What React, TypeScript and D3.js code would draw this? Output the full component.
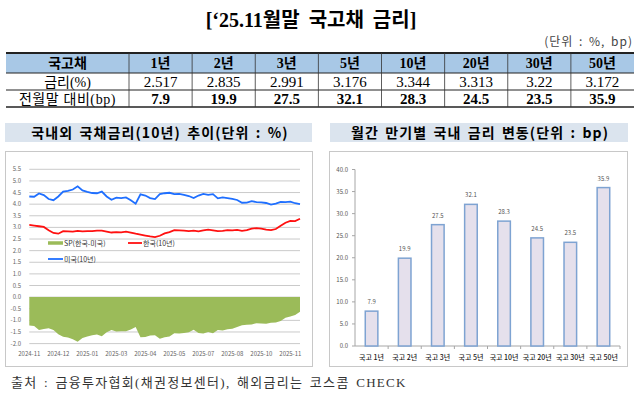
import React from 'react';
import * as d3 from 'd3';

// table / bar chart data
const maturities = ['1년', '2년', '3년', '5년', '10년', '20년', '30년', '50년'];
const yields = [2.517, 2.835, 2.991, 3.176, 3.344, 3.313, 3.22, 3.172];
const changeBp = [7.9, 19.9, 27.5, 32.1, 28.3, 24.5, 23.5, 35.9];
const barCategories = maturities.map(m => `국고 ${m}`);

// 10y yields, Nov 2024 -> Nov 2025
const usRate = [
  4.33, 4.32, 4.46, 4.39, 4.22, 4.17, 4.33, 4.54, 4.57, 4.63,
  4.77, 4.59, 4.53, 4.48, 4.47, 4.54, 4.33, 4.19, 4.28, 4.26,
  4.29, 4.17, 4.02, 4.42, 4.37, 4.26, 4.22, 4.43, 4.47, 4.49,
  4.43, 4.44, 4.4, 4.35, 4.26, 4.37, 4.44, 4.4, 4.43, 4.25,
  4.29, 4.26, 4.23, 4.18, 4.06, 4.07, 4.13, 4.09, 4.08, 4.05,
  3.98, 4.02, 4.1, 4.09, 4.11, 4.04, 4.0,
];
const krRate = [
  3.11, 3.08, 3.05, 3.02, 2.88, 2.76, 2.73, 2.84, 2.83, 2.82,
  2.85, 2.83, 2.84, 2.84, 2.86, 2.86, 2.82, 2.78, 2.8, 2.79,
  2.82, 2.78, 2.73, 2.69, 2.65, 2.61, 2.58, 2.64, 2.74, 2.8,
  2.88, 2.87, 2.86, 2.84, 2.86, 2.83, 2.87, 2.9, 2.87, 2.84,
  2.85, 2.88, 2.87, 2.89, 2.85, 2.88, 2.95, 2.97, 2.95, 2.9,
  2.88, 2.93, 3.07, 3.2, 3.28, 3.27, 3.37,
];
const dateLabels = ['2024-11', '2024-12', '2025-01', '2025-03', '2025-04', '2025-05', '2025-07', '2025-08', '2025-10', '2025-11'];
const labelEvery = 6;

const rateTicks = d3.range(-2, 5.51, 0.5);
const bpTicks = d3.range(0, 40.1, 5);

const serif = '"Liberation Serif", "Noto Sans CJK KR", serif';
const sans = '"Noto Sans CJK KR", "Liberation Sans", sans-serif';
const fmt1 = (v: number) => (Math.round(v * 10) / 10).toFixed(1);

const Table = () => {
  const left = 6, right = 634, firstW = 123;
  const col = d3.scaleBand<string>().domain(maturities).range([left + firstW, right]);
  const rows = [53, 73, 90, 107];
  const mid = (i: number) => (rows[i] + rows[i + 1]) / 2 + 5;
  return (
    <g>
      <rect x={left} y={rows[0]} width={right - left} height={rows[1] - rows[0]} fill="#a8c8e6" />
      {rows.map((y, i) => (
        <line key={i} x1={left} x2={right} y1={y} y2={y} stroke="#222"
          strokeWidth={i === 0 ? 2.2 : i === 3 ? 1.6 : 1} />
      ))}
      {maturities.map(m => (
        <line key={m} x1={col(m)} x2={col(m)} y1={rows[0]} y2={rows[3]} stroke="#333" strokeWidth={0.8} />
      ))}
      <text x={left + firstW / 2} y={mid(0)} textAnchor="middle" fontFamily={serif} fontWeight="bold" fontSize={14}>국고채</text>
      <text x={left + firstW / 2} y={mid(1)} textAnchor="middle" fontFamily={serif} fontSize={14}>금리(%)</text>
      <text x={left + firstW / 2} y={mid(2)} textAnchor="middle" fontFamily={serif} fontSize={14} letterSpacing={0.6}>전월말 대비(bp)</text>
      {maturities.map((m, i) => {
        const cx = col(m)! + col.bandwidth() / 2;
        return (
          <g key={m} fontFamily={serif} textAnchor="middle">
            <text x={cx} y={mid(0)} fontWeight="bold" fontSize={14}>{m}</text>
            <text x={cx} y={mid(1)} fontSize={15}>{yields[i]}</text>
            <text x={cx} y={mid(2)} fontWeight="bold" fontSize={15}>{changeBp[i].toFixed(1)}</text>
          </g>
        );
      })}
    </g>
  );
};

const RateChart = () => {
  const x = d3.scaleLinear().domain([0, usRate.length - 1]).range([29.3, 300]);
  const y = d3.scaleLinear().domain([-2, 5.5]).range([343.6, 169.3]);
  const spread = krRate.map((v, i) => v - usRate[i]);
  const area = d3.area<number>().x((_, i) => x(i)).y0(y(0)).y1(d => y(d));
  const line = d3.line<number>().x((_, i) => x(i)).y(d => y(d));
  return (
    <g>
      <rect x={5.5} y={151.5} width={307} height={215} fill="#fff" stroke="#c8c8c8" />
      {rateTicks.map(t => (
        <g key={t}>
          <line x1={29.3} x2={300} y1={y(t)} y2={y(t)} stroke="#bcbcbc" strokeWidth={0.8} />
          <text x={21} y={y(t) + 2} textAnchor="end" fontFamily={sans} fontSize={6} fill="#666">{fmt1(t)}</text>
        </g>
      ))}
      <path d={area(spread)!} fill="#9bbb59" />
      <path d={line(usRate)!} fill="none" stroke="#1f6fff" strokeWidth={1.8} />
      <path d={line(krRate)!} fill="none" stroke="#ff1010" strokeWidth={1.8} />
      {dateLabels.map((d, i) => (
        <text key={d} x={x(i * labelEvery)} y={356} textAnchor="middle" fontFamily={sans} fontSize={6} fill="#666">{d}</text>
      ))}
      <g fontFamily={sans} fontSize={7} fill="#333">
        <line x1={48} x2={63} y1={243} y2={243} stroke="#9bbb59" strokeWidth={3.5} />
        <text x={64} y={245.5}>SP(한국-미국)</text>
        <line x1={128} x2={142} y1={243} y2={243} stroke="#ff1010" strokeWidth={1.8} />
        <text x={143} y={245.5}>한국(10년)</text>
        <line x1={48} x2={63} y1={259} y2={259} stroke="#1f6fff" strokeWidth={1.8} />
        <text x={64} y={261.5}>미국(10년)</text>
      </g>
    </g>
  );
};

const BarChart = () => {
  const x = d3.scaleBand<string>().domain(barCategories).range([355, 620]);
  const y = d3.scaleLinear().domain([0, 40]).range([346, 169.5]);
  const barW = x.bandwidth() * 0.38;
  return (
    <g>
      <rect x={329.5} y={151.5} width={298} height={215} fill="#fff" stroke="#c8c8c8" />
      <line x1={355} x2={355} y1={y(40)} y2={y(0)} stroke="#a6a6a6" />
      {bpTicks.map(t => (
        <g key={t}>
          <line x1={352} x2={355} y1={y(t)} y2={y(t)} stroke="#a6a6a6" />
          <text x={348} y={y(t) + 2} textAnchor="end" fontFamily={sans} fontSize={6} fill="#555">{fmt1(t)}</text>
        </g>
      ))}
      <line x1={355} x2={620} y1={y(0)} y2={y(0)} stroke="#a6a6a6" />
      {barCategories.map(c => (
        <line key={c} x1={x(c)! + x.bandwidth()} x2={x(c)! + x.bandwidth()} y1={y(0)} y2={y(0) + 3} stroke="#a6a6a6" />
      ))}
      {barCategories.map((c, i) => {
        const cx = x(c)! + x.bandwidth() / 2;
        return (
          <g key={c}>
            <rect x={cx - barW / 2} y={y(changeBp[i])} width={barW} height={y(0) - y(changeBp[i])}
              fill="#e5e0ec" stroke="#7ea3d2" strokeWidth={1.5} />
            <text x={cx} y={y(changeBp[i]) - 7} textAnchor="middle" fontFamily={sans} fontSize={6} fill="#555">{changeBp[i].toFixed(1)}</text>
            <text x={cx} y={360} textAnchor="middle" fontFamily={sans} fontSize={7} fontWeight="500" fill="#222">{c}</text>
          </g>
        );
      })}
    </g>
  );
};

export default function App() {
  return (
    <svg width={640} height={396} style={{ position: 'absolute', left: 0, top: 0, background: '#fff' }}>
      <text x={311} y={27} textAnchor="middle" fontFamily={serif} fontWeight="bold" fontSize={20} wordSpacing={4}>[‘25.11월말 국고채 금리]</text>
      <text x={633} y={46} textAnchor="end" fontFamily={sans} fontSize={12} fill="#444" letterSpacing={1} wordSpacing={2}>(단위 : %, bp)</text>
      <Table />
      <rect x={5} y={123} width={307} height={19} fill="#dbe4ee" />
      <text x={160} y={137.5} textAnchor="middle" fontFamily={sans} fontWeight="bold" fontSize={14} letterSpacing={1.1} wordSpacing={2}>국내외 국채금리(10년) 추이(단위 : %)</text>
      <rect x={330} y={123} width={298} height={19} fill="#dbe4ee" />
      <text x={480} y={137.5} textAnchor="middle" fontFamily={sans} fontWeight="bold" fontSize={14} letterSpacing={1.1} wordSpacing={2}>월간 만기별 국내 금리 변동(단위 : bp)</text>
      <RateChart />
      <BarChart />
      <text x={11} y={387} fontFamily={serif} fontSize={13} fill="#333" letterSpacing={1.3} wordSpacing={2}>출처 : 금융투자협회(채권정보센터), 해외금리는 코스콤 CHECK</text>
    </svg>
  );
}
